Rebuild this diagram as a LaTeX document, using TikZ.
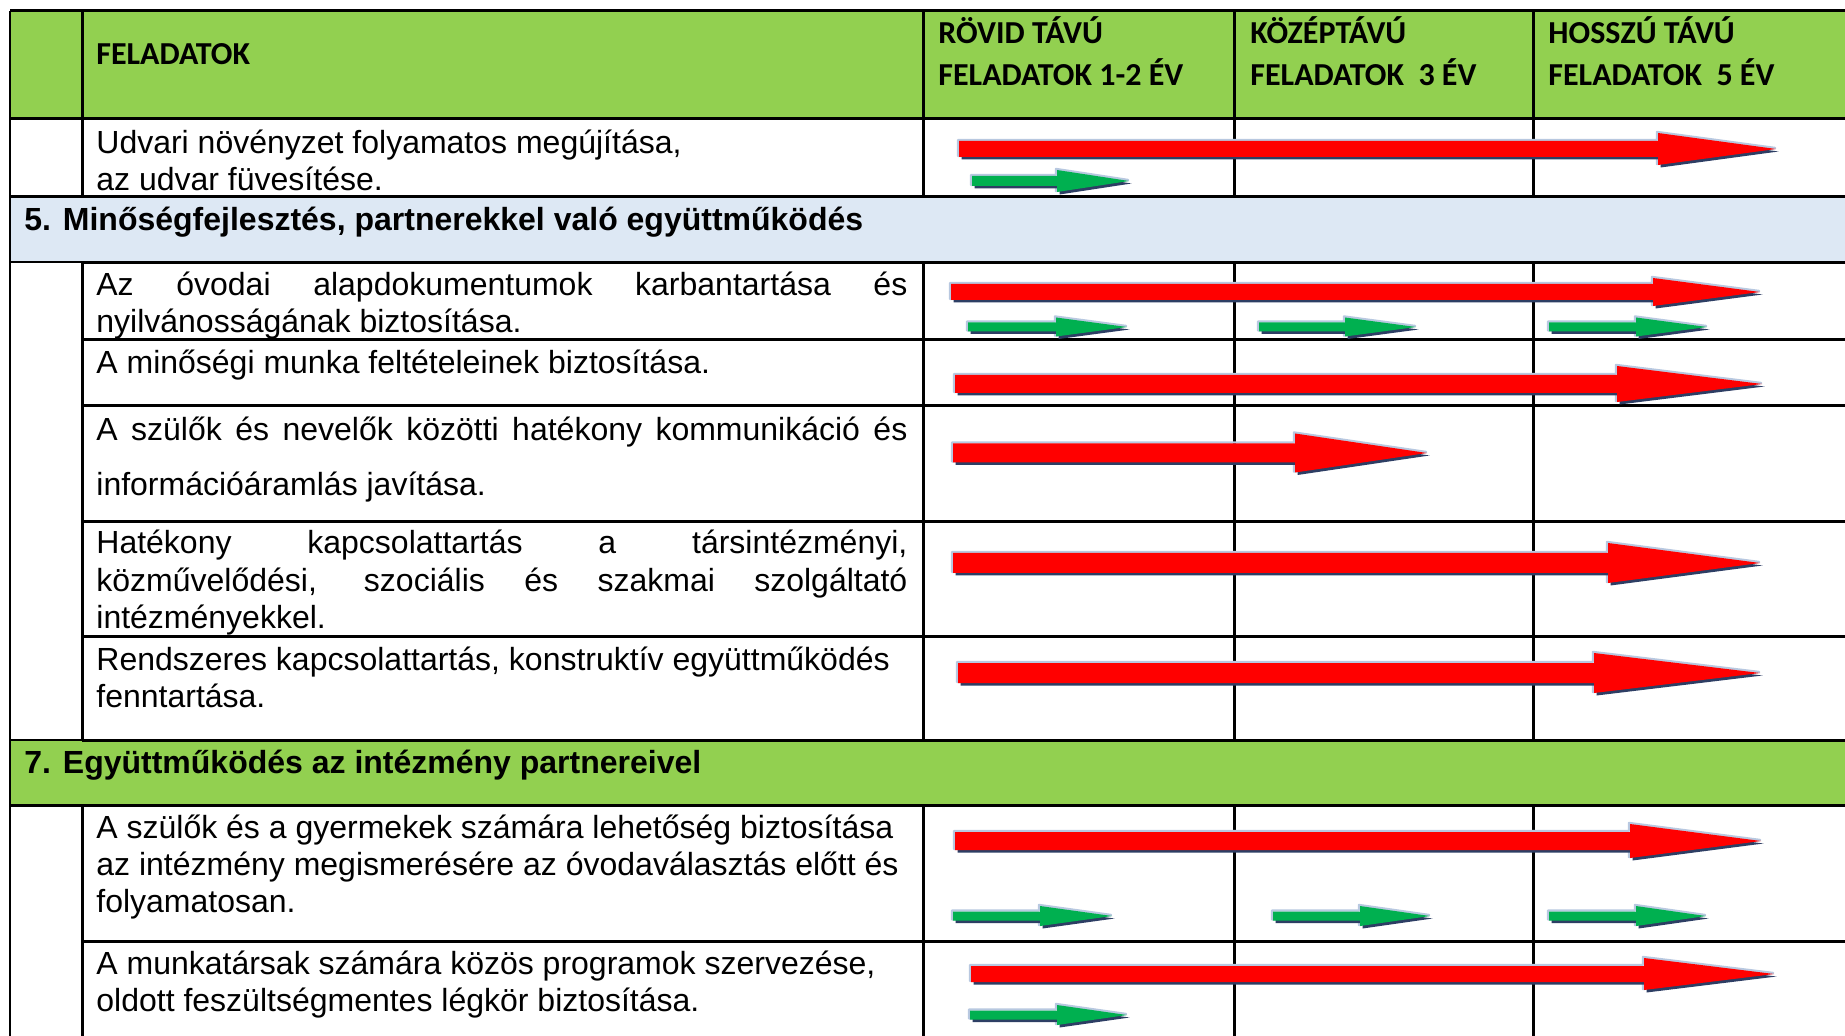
\documentclass[tikz,border=0pt]{standalone}
\usepackage{fontspec}
\setmainfont{Liberation Sans}
\newfontfamily\hdfont{Carlito}
\usetikzlibrary{positioning}

\definecolor{hdgreen}{RGB}{146,208,80}
\definecolor{bandblue}{RGB}{221,232,244}
\definecolor{arrred}{RGB}{255,0,0}
\definecolor{arrgreen}{RGB}{0,176,80}
\definecolor{arrshade}{RGB}{45,62,100}
\definecolor{arrhalo}{RGB}{184,200,224}

\tikzset{
  thick rule/.style={line width=1.5pt},
  thin rule/.style={line width=0.8pt},
  cell/.style={anchor=base west, inner sep=0pt,
    font=\fontsize{16pt}{18.5pt}\selectfont},
  headcell/.style={anchor=base west, inner sep=0pt,
    font=\hdfont\bfseries\fontsize{16pt}{21pt}\selectfont},
  bandtitle/.style={anchor=base west, inner sep=0pt,
    font=\bfseries\fontsize{16pt}{19pt}\selectfont},
}
\newcommand\fullline[1]{\makebox[405.5pt][s]{#1}}

% colour, start, head base, tip, y, half shaft, half head
\newcommand\timearrow[7]{%
  \draw[arrhalo, line width=1.2pt, line join=round, shift={(-1,-1)}]
    (#2,#5-#6) -- (#3,#5-#6) -- (#3,#5-#7) -- (#4,#5) -- (#3,#5+#7) -- (#3,#5+#6) -- (#2,#5+#6) -- cycle;
  \fill[arrshade, shift={(2.5,2.5)}]
    (#2,#5-#6) -- (#3,#5-#6) -- (#3,#5-#7) -- (#4,#5) -- (#3,#5+#7) -- (#3,#5+#6) -- (#2,#5+#6) -- cycle;
  \fill[#1]
    (#2,#5-#6) -- (#3,#5-#6) -- (#3,#5-#7) -- (#4,#5) -- (#3,#5+#7) -- (#3,#5+#6) -- (#2,#5+#6) -- cycle;
}

\begin{document}
\begin{tikzpicture}[x=0.5pt,y=-0.5pt]
\useasboundingbox (0,0) rectangle (1845,1036);
\fill[white] (0,0) rectangle (1845,1036);

% header and section bands
\fill[hdgreen] (10,11) rectangle (1845,119);
\fill[bandblue] (10,197) rectangle (1845,263);
\fill[hdgreen] (10,740) rectangle (1845,805);

% table rules
\foreach \yy in {11,119,197,805}
  \draw[thick rule] (10,\yy) -- (1845,\yy);
\foreach \yy in {263,340,406,522,636,740,941}
  \draw[thick rule] (82,\yy) -- (1845,\yy);
\draw[thin rule] (10,262) -- (82,262);
\draw[thin rule] (10,740) -- (82,740);
\draw[thin rule] (10,11) -- (10,1036);
\foreach \xx in {82,923,1234,1533} {
  \draw[thick rule] (\xx,11) -- (\xx,197);
  \draw[thick rule] (\xx,263) -- (\xx,740);
  \draw[thick rule] (\xx,805) -- (\xx,1036);
}

% arrows
\timearrow{arrred}{959}{1658}{1776}{149}{8}{16}
\timearrow{arrgreen}{972}{1057}{1129}{181}{5}{11}
\timearrow{arrred}{951}{1653}{1760}{292}{8}{14}
\timearrow{arrgreen}{968}{1056}{1127}{327}{4.5}{9.5}
\timearrow{arrgreen}{1259}{1345}{1416}{327}{4.5}{9.5}
\timearrow{arrgreen}{1549}{1636}{1707}{327}{4.5}{9.5}
\timearrow{arrred}{955}{1617}{1762}{384}{9}{18}
\timearrow{arrred}{953}{1295}{1427}{453}{9.5}{19.5}
\timearrow{arrred}{953}{1608}{1760}{563}{10}{20}
\timearrow{arrred}{958}{1594}{1760}{673}{10}{20}
\timearrow{arrred}{955}{1630}{1761}{841}{9}{17}
\timearrow{arrgreen}{953}{1040}{1112}{916}{4.5}{10}
\timearrow{arrgreen}{1273}{1360}{1430}{916}{4.5}{10}
\timearrow{arrgreen}{1549}{1636}{1706}{916}{4.5}{10}
\timearrow{arrred}{971}{1644}{1774}{974}{8}{16}
\timearrow{arrgreen}{970}{1057}{1127}{1015}{4.5}{10}

% header texts
\node[headcell] (hdtask) at (96,65) {FELADATOK};
\node[headcell] (hdshort) at (938,44) {RÖVID TÁVÚ};
\node[headcell] (hdshortb) at (938,86) {FELADATOK 1-2 ÉV};
\node[headcell] (hdmid) at (1250,44) {KÖZÉPTÁVÚ};
\node[headcell] (hdmidb) at (1250,86) {FELADATOK\ \ 3 ÉV};
\node[headcell] (hdlong) at (1548,44) {HOSSZÚ TÁVÚ};
\node[headcell] (hdlongb) at (1548,86) {FELADATOK\ \ 5 ÉV};

% task texts
\node[cell] (udvari) at (96,154) {Udvari növényzet folyamatos megújítása,};
\node[cell] (udvarib) at (96,191) {az udvar füvesítése.};
\node[bandtitle] (sec5) at (24,231) {5. Minőségfejlesztés, partnerekkel való együttműködés};
\node[cell] (alapdok) at (96,296) {\fullline{Az óvodai alapdokumentumok karbantartása és}};
\node[cell] (alapdokb) at (96,333) {nyilvánosságának biztosítása.};
\node[cell] (minoseg) at (96,374) {A minőségi munka feltételeinek biztosítása.};
\node[cell] (kommun) at (96,441) {\fullline{A szülők és nevelők közötti hatékony kommunikáció és}};
\node[cell] (kommunb) at (96,496) {információáramlás javítása.};
\node[cell] (kapcsolat) at (96,554) {\fullline{Hatékony kapcsolattartás a társintézményi,}};
\node[cell] (kapcsolatb) at (96,591) {\fullline{közművelődési, szociális és szakmai szolgáltató}};
\node[cell] (kapcsolatc) at (96,628) {intézményekkel.};
\node[cell] (rendszer) at (96,670) {Rendszeres kapcsolattartás, konstruktív együttműködés};
\node[cell] (rendszerb) at (96,707) {fenntartása.};
\node[bandtitle] (sec7) at (24,773) {7. Együttműködés az intézmény partnereivel};
\node[cell] (megismer) at (96,838) {A szülők és a gyermekek számára lehetőség biztosítása};
\node[cell] (megismerb) at (96,875) {az intézmény megismerésére az óvodaválasztás előtt és};
\node[cell] (megismerc) at (96,912) {folyamatosan.};
\node[cell] (munkatars) at (96,974) {A munkatársak számára közös programok szervezése,};
\node[cell] (munkatarsb) at (96,1011) {oldott feszültségmentes légkör biztosítása.};
\end{tikzpicture}
\end{document}
